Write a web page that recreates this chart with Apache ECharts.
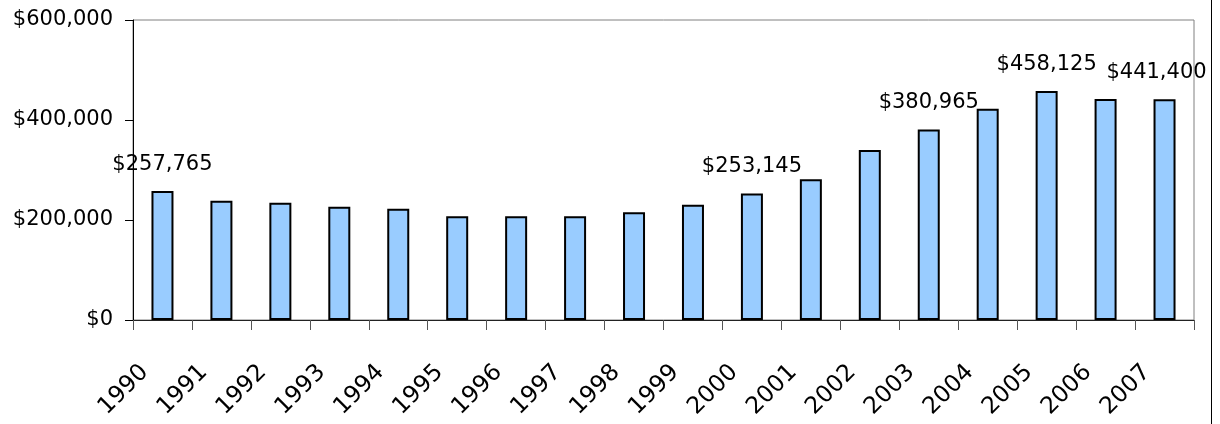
<!DOCTYPE html>
<html>
<head>
<meta charset="utf-8">
<script src="https://cdn.jsdelivr.net/npm/echarts@6/dist/echarts.min.js"></script>
<style>
  html, body { margin: 0; padding: 0; background: #ffffff; }
  #chart { width: 1220px; height: 424px; }
</style>
</head>
<body>
<div id="chart"></div>
<script>
// Median home price by year
const years = ['1990', '1991', '1992', '1993', '1994', '1995', '1996', '1997', '1998',
               '1999', '2000', '2001', '2002', '2003', '2004', '2005', '2006', '2007'];
const medianPrice = [257765, 238600, 234600, 226600, 222600, 207300, 207300, 207300, 215300,
                     230700, 253145, 281300, 340000, 380965, 422700, 458125, 442000, 441400];
// Years whose value is printed above the bar
const labeledYears = ['1990', '2000', '2003', '2005', '2007'];
// Value axis ticks
const yTicks = [0, 200000, 400000, 600000];

const FONT = 'DejaVu Sans';
const money = v => '$' + Math.round(v).toLocaleString('en-US');

const barData = medianPrice.map((v, i) => {
  const item = { value: v };
  if (labeledYears.includes(years[i])) {
    item.label = { show: true };
    if (i === years.length - 1) item.label.offset = [-8, 0];
  }
  return item;
});

const chart = echarts.init(document.getElementById('chart'), null, { renderer: 'canvas' });
chart.setOption({
  animation: false,
  backgroundColor: '#ffffff',
  grid: {
    left: 133, right: 26, top: 20, bottom: 104,
    containLabel: false,
    outerBoundsMode: 'none',
    show: true,
    borderColor: '#808080',
    borderWidth: 1,
    backgroundColor: 'transparent'
  },
  xAxis: {
    type: 'category',
    data: years,
    boundaryGap: true,
    axisLine: { show: true, lineStyle: { color: '#222222', width: 1 } },
    axisTick: { show: true, length: 10, interval: 0, lineStyle: { color: '#555555', width: 1 } },
    axisLabel: {
      interval: 0,
      rotate: 45,
      margin: 31,
      padding: [0, 25, 0, 0],
      color: '#000000',
      fontFamily: FONT,
      fontSize: 23.5
    },
    splitLine: { show: false }
  },
  yAxis: {
    type: 'value',
    min: yTicks[0],
    max: yTicks[yTicks.length - 1],
    interval: yTicks[1] - yTicks[0],
    axisLine: { show: true, lineStyle: { color: '#000000', width: 1 } },
    axisTick: { show: true, length: 8, lineStyle: { color: '#000000', width: 1 } },
    axisLabel: {
      margin: 20,
      color: '#000000',
      fontFamily: FONT,
      fontSize: 21,
      formatter: v => money(v)
    },
    splitLine: { show: false }
  },
  series: [{
    type: 'bar',
    data: barData,
    barWidth: 22,
    itemStyle: { color: '#99CCFF', borderColor: '#000000', borderWidth: 2 },
    label: {
      show: false,
      position: 'top',
      distance: 16,
      color: '#000000',
      fontFamily: FONT,
      fontSize: 21,
      formatter: p => money(p.value)
    }
  }],
  graphic: [{
    type: 'line',
    shape: { x1: 1211.5, y1: 0, x2: 1211.5, y2: 424 },
    style: { stroke: '#000000', lineWidth: 1 },
    silent: true
  }]
});
</script>
</body>
</html>
